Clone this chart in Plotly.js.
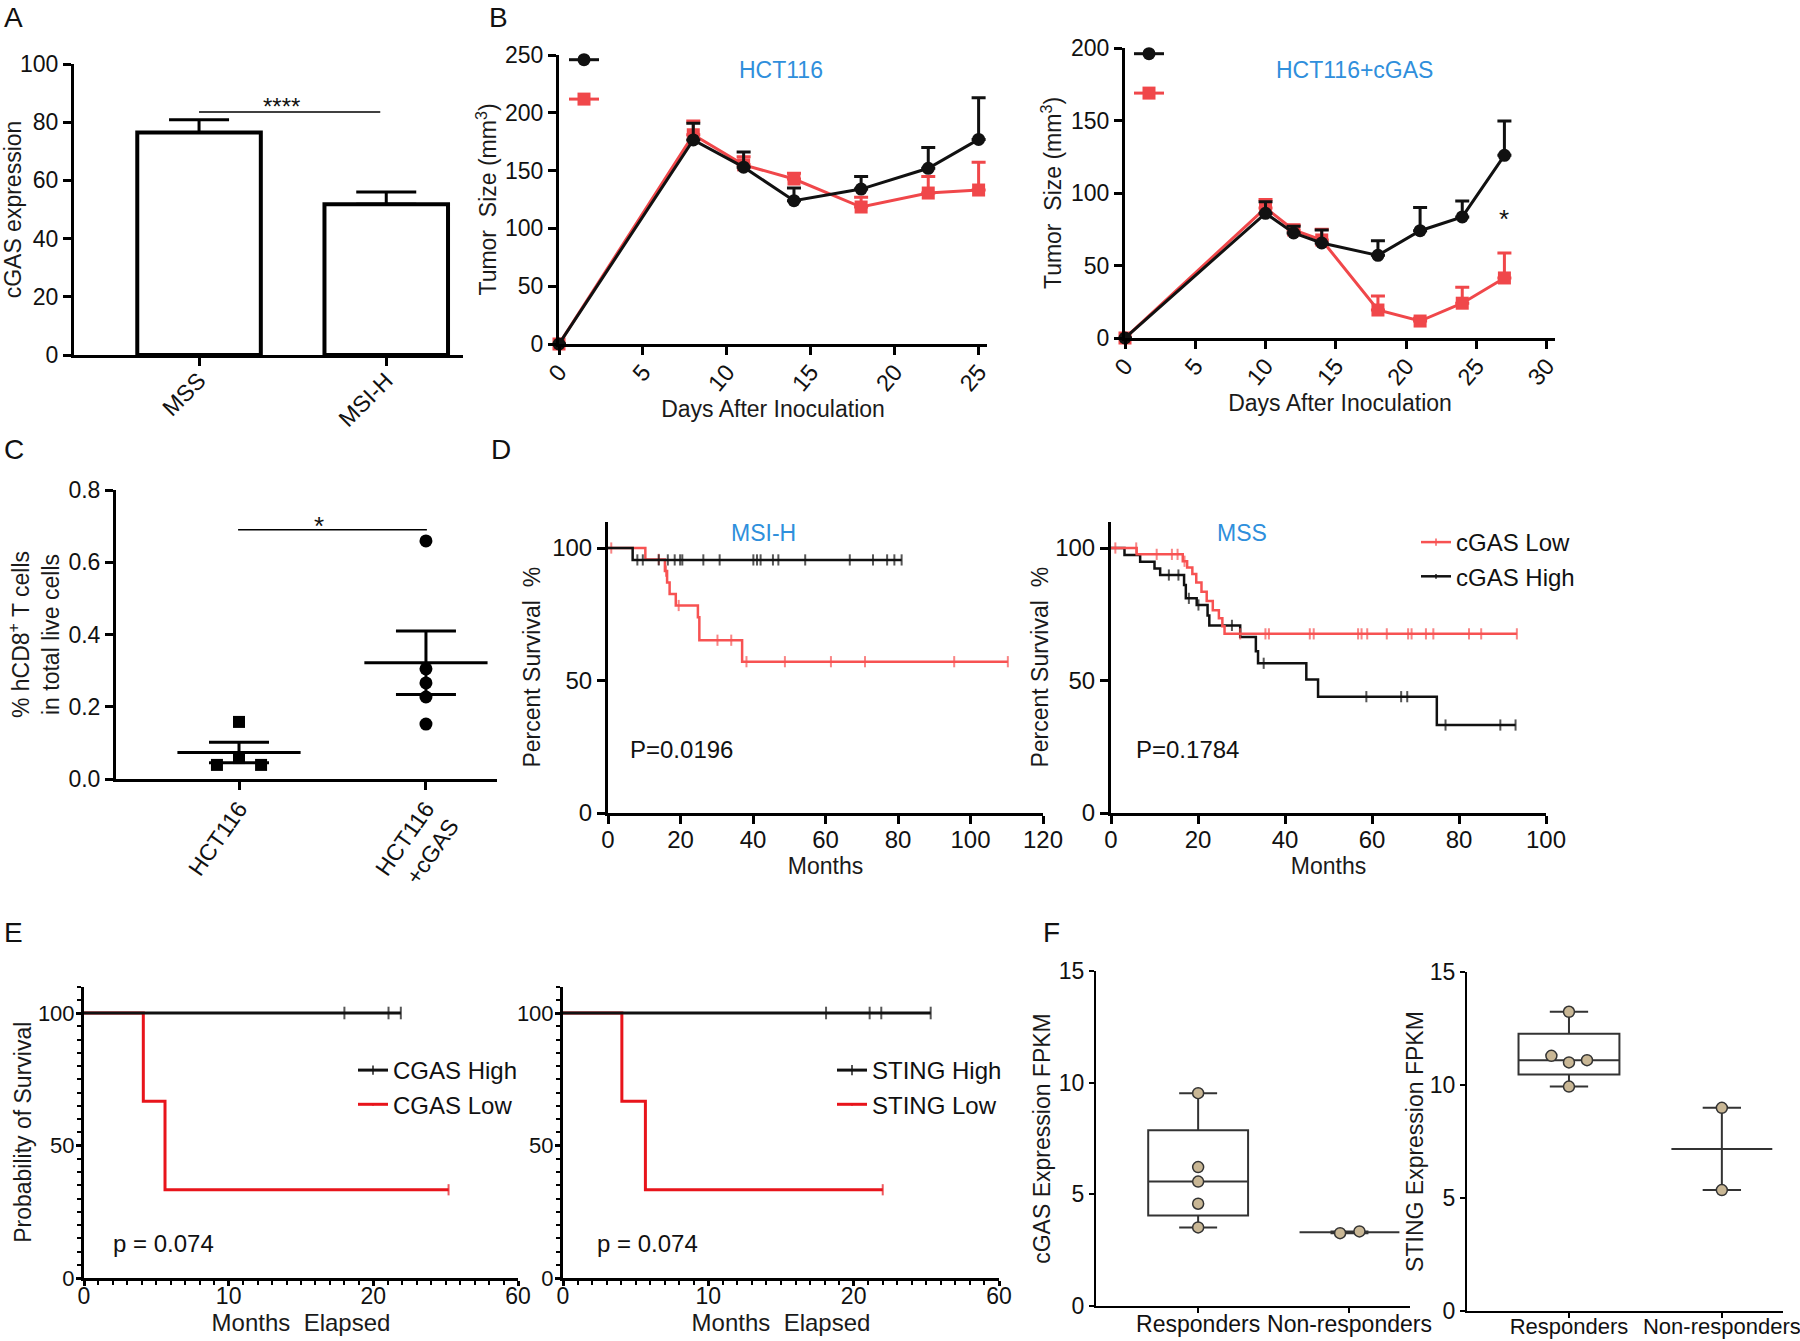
<!DOCTYPE html>
<html><head><meta charset="utf-8">
<script src="https://cdn.plot.ly/plotly-3.0.1.min.js"></script>
<style>body{margin:0;background:#fff}#chart{width:1800px;height:1341px}</style>
</head><body><div id="chart"></div>
<script>
// ===================== DATA =====================
// Panel A
const aCategories = ['MSS', 'MSI-H'];
const aValues = [76.5, 51.8];
const aErrors = [4.3, 4.2];

// Panel B (tumor growth, mean + upper SEM)
const bDaysHCT = [0, 8, 11, 14, 18, 22, 25];
const bHCTBlack = [0, 176.5, 153, 124, 134, 152, 177];
const bHCTBlackErr = [0, 14.5, 13, 11, 11, 18, 36];
const bHCTRed = [0, 181, 155, 142.7, 118.5, 130.6, 133.2];
const bHCTRedErr = [0, 12, 7, 5, 8.5, 14.4, 24];
const bDaysCGAS = [0, 10, 12, 14, 18, 21, 24, 27];
const bCGASBlack = [0, 86, 72.4, 65.5, 57, 74, 83.5, 126];
const bCGASBlackErr = [0, 8, 4.6, 9, 10, 16, 11, 23.7];
const bCGASRed = [0, 89.7, 74.5, 67.6, 19.3, 11.7, 24, 41.4];
const bCGASRedErr = [0, 5.9, 3.5, 7.4, 9.7, 2, 11, 17.2];

// Panel C
const cCategories = ['HCT116', 'HCT116<br>+cGAS'];
const cHCT116 = [0.158, 0.058, 0.039, 0.039];
const cHCT116Jitter = [0, 0, -0.118, 0.118];
const cHCT116cGAS = [0.659, 0.305, 0.266, 0.227, 0.152];
const cHCT116cGASJitter = [0, 0, 0, 0, 0];

// Panel D (Kaplan-Meier, percent survival)
const dMSIHighEventT = [6.8];
const dMSIHighEventS = [95.5];
const dMSIHighCensor = [8.1, 9.6, 14.0, 16.5, 18.4, 19.9, 20.5, 26.3, 30.8, 40.1, 41.1, 42.1, 45.5, 47.0, 54.4, 66.7, 73.1, 77.0, 79.0, 81.0];
const dMSILowEventT = [10.3, 15.7, 16.3, 17.0, 18.7, 24.8, 25.2, 37.0];
const dMSILowEventS = [95.7, 91.3, 87.0, 82.6, 78.3, 73.9, 65.2, 57.1];
const dMSILowCensor = [0.9, 14.0, 16.0, 19.5, 30.2, 34.0, 38.2, 48.8, 61.5, 70.9, 95.5, 110.3];
const dMSSHighEventT = [3.1, 6.7, 10.0, 11.3, 16.8, 17.2, 19.7, 22.2, 22.6, 29.7, 33.3, 33.8, 44.9, 47.6, 74.9];
const dMSSHighEventS = [97.4, 94.8, 92.3, 89.8, 86.0, 81.0, 78.5, 74.5, 70.8, 66.4, 61.0, 56.5, 50.4, 43.9, 33.2];
const dMSSHighCensor = [13.3, 15.5, 17.9, 20.1, 27.8, 35.1, 58.7, 66.7, 68.1, 76.9, 89.5, 93.0];
const dMSSLowEventT = [5.9, 16.5, 17.5, 18.7, 19.6, 20.8, 22.0, 23.4, 24.8, 25.6, 26.1];
const dMSSLowEventS = [97.6, 95.0, 92.6, 90.2, 87.0, 83.5, 80.0, 76.5, 73.5, 70.5, 67.6];
const dMSSLowCensor = [1.0, 5.8, 10.5, 14.0, 15.3, 16.9, 29.7, 35.5, 36.3, 45.7, 46.6, 56.8, 57.6, 58.9, 63.4, 68.3, 69.1, 72.4, 74.1, 82.3, 85.1, 93.3];

// Panel E (Kaplan-Meier, probability of survival)
const eTickVals = [0, 10, 20, 30];
const eTickText = ['0', '10', '20', '60'];
const eCGASHighEventT = [], eCGASHighEventS = [];
const eCGASHighCensor = [18.0, 21.05, 21.9];
const eCGASLowEventT = [4.1, 5.6];
const eCGASLowEventS = [66.7, 33.3];
const eCGASLowCensor = [25.2];
const eSTINGHighEventT = [], eSTINGHighEventS = [];
const eSTINGHighCensor = [18.1, 21.1, 21.9, 25.3];
const eSTINGLowEventT = [4.05, 5.67];
const eSTINGLowEventS = [66.7, 33.3];
const eSTINGLowCensor = [22.0];

// Panel F
const fCategories = ['Responders', 'Non-responders'];
const fCGASResponders = [9.53, 6.22, 5.57, 4.58, 3.52];
const fCGASRespJitter = [0, 0, 0, 0, 0];
const fCGASNonResponders = [3.26, 3.34];
const fCGASNonJitter = [-0.062, 0.066];
const fSTINGResponders = [13.24, 11.29, 11.0, 11.1, 9.93];
const fSTINGRespJitter = [0, -0.115, 0, 0.118, 0];
const fSTINGNonResponders = [8.99, 5.35];
const fSTINGNonJitter = [0, 0];

// ===================== HELPERS =====================
const FONT = 'Arial, "Liberation Sans", sans-serif';
const W = 1800, H = 1341;
const xd = (a, b) => [a / W, b / W];
const yd = (top, bottom) => [1 - bottom / H, 1 - top / H];
const BLUE = '#2f8fdc';
const RED_B = '#f0474a', RED_D = '#f75252', RED_E = '#e8141b';
const BLK = '#111111';

function axis(domain, anchor, extra) {
  return Object.assign({
    domain, anchor, showline: true, linecolor: '#000', linewidth: 3,
    ticks: 'outside', ticklen: 8, tickwidth: 2.5, tickcolor: '#000',
    showgrid: false, zeroline: false, fixedrange: true,
    tickfont: {family: FONT, size: 23, color: '#111'}
  }, extra);
}
const tf = size => ({family: FONT, size, color: '#111'});
function ttl(text, standoff, size) {
  return {text, standoff, font: {family: FONT, size: size || 23, color: '#1a1a1a'}};
}
function km(evT, evS, cens, tick) {
  const pts = [{t: 0, s: 100, c: 0}];
  evT.forEach((t, i) => pts.push({t, s: evS[i], c: 0}));
  cens.forEach(t => pts.push({t, s: null, c: 1}));
  pts.sort((a, b) => (a.t - b.t) || (a.c - b.c));
  let cur = 100;
  pts.forEach(p => { if (p.c) p.s = cur; else cur = p.s; });
  return {x: pts.map(p => p.t), y: pts.map(p => p.s), size: pts.map(p => p.c ? tick : 0)};
}
function kmTrace(evT, evS, cens, color, width, tick, xa, ya, name, legend, rank) {
  const k = km(evT, evS, cens, tick);
  return {
    type: 'scatter', mode: 'lines+markers', x: k.x, y: k.y, xaxis: xa, yaxis: ya,
    line: {shape: 'hv', color, width},
    marker: {symbol: 'line-ns', size: k.size, color, line: {color, width: 2}},
    name: name || '', showlegend: !!legend, legend: legend || 'legend', legendrank: rank || 1000,
    legendgroup: name || undefined, hoverinfo: 'skip', cliponaxis: false
  };
}
const mean = a => a.reduce((s, v) => s + v, 0) / a.length;
const sem = a => { const m = mean(a); return Math.sqrt(a.reduce((s, v) => s + (v - m) ** 2, 0) / (a.length - 1)) / Math.sqrt(a.length); };
function boxStats(vals) {
  const s = [...vals].sort((a, b) => a - b), n = s.length;
  const md = a => a.length % 2 ? a[(a.length - 1) / 2] : (a[a.length / 2 - 1] + a[a.length / 2]) / 2;
  const med = md(s);
  if (n < 4) return {q1: med, med, q3: med, lo: s[0], hi: s[n - 1]};
  return {q1: md(s.slice(0, Math.floor(n / 2))), med, q3: md(s.slice(Math.ceil(n / 2))), lo: s[0], hi: s[n - 1]};
}
function boxTrace(groups, xa, ya) {
  const st = groups.map(boxStats);
  return {
    type: 'box', x: groups.map((g, i) => i), xaxis: xa, yaxis: ya,
    q1: st.map(s => s.q1), median: st.map(s => s.med), q3: st.map(s => s.q3),
    lowerfence: st.map(s => s.lo), upperfence: st.map(s => s.hi),
    width: 0.66, whiskerwidth: 0.38, boxpoints: false,
    line: {color: '#333', width: 2}, fillcolor: 'rgba(0,0,0,0)', showlegend: false, hoverinfo: 'skip'
  };
}
function pointTrace(vals, jit, idx, xa, ya) {
  return {
    type: 'scatter', mode: 'markers', x: vals.map((v, i) => idx + jit[i]), y: vals,
    xaxis: xa, yaxis: ya, showlegend: false, hoverinfo: 'skip', cliponaxis: false,
    marker: {color: '#c9b795', size: 11, line: {color: '#333', width: 1.5}}
  };
}
function growth(x, y, err, color, symbol, xa, ya, legend, rank) {
  return {
    type: 'scatter', mode: 'lines+markers', x, y, xaxis: xa, yaxis: ya,
    line: {color, width: 3}, marker: {color, symbol, size: 13},
    error_y: {type: 'data', array: err, arrayminus: err.map(() => 0), symmetric: false, color, thickness: 3, width: 7},
    name: ' ', legend, legendrank: rank, showlegend: true, hoverinfo: 'skip', cliponaxis: false
  };
}

// ===================== TRACES =====================
const traces = [];
// A
traces.push({
  type: 'bar', x: aCategories, y: aValues, xaxis: 'x', yaxis: 'y', width: 0.66,
  marker: {color: '#fff', line: {color: '#000', width: 4}},
  error_y: {type: 'data', array: aErrors, arrayminus: [0, 0], symmetric: false, color: '#000', thickness: 3, width: 30},
  showlegend: false, hoverinfo: 'skip'
});
// B
traces.push(growth(bDaysHCT, bHCTRed, bHCTRedErr, RED_B, 'square', 'x2', 'y2', 'legend', 2));
traces.push(growth(bDaysHCT, bHCTBlack, bHCTBlackErr, BLK, 'circle', 'x2', 'y2', 'legend', 1));
traces.push(growth(bDaysCGAS, bCGASRed, bCGASRedErr, RED_B, 'square', 'x3', 'y3', 'legend2', 2));
traces.push(growth(bDaysCGAS, bCGASBlack, bCGASBlackErr, BLK, 'circle', 'x3', 'y3', 'legend2', 1));
// C
traces.push({type: 'scatter', mode: 'markers', x: cHCT116.map((v, i) => 0 + cHCT116Jitter[i]), y: cHCT116,
  xaxis: 'x4', yaxis: 'y4', marker: {symbol: 'square', color: '#000', size: 12}, showlegend: false, hoverinfo: 'skip', cliponaxis: false});
traces.push({type: 'scatter', mode: 'markers', x: cHCT116cGAS.map((v, i) => 1 + cHCT116cGASJitter[i]), y: cHCT116cGAS,
  xaxis: 'x4', yaxis: 'y4', marker: {symbol: 'circle', color: '#000', size: 13}, showlegend: false, hoverinfo: 'skip', cliponaxis: false});
traces.push({type: 'scatter', mode: 'markers', x: [0, 1], y: [mean(cHCT116), mean(cHCT116cGAS)], xaxis: 'x4', yaxis: 'y4',
  marker: {symbol: 'line-ew', size: 88, color: '#000', line: {color: '#000', width: 3}},
  error_y: {type: 'data', array: [sem(cHCT116), sem(cHCT116cGAS)], color: '#000', thickness: 3, width: 30},
  showlegend: false, hoverinfo: 'skip', cliponaxis: false});
// D
traces.push(kmTrace(dMSILowEventT, dMSILowEventS, dMSILowCensor, RED_D, 2.5, 8, 'x5', 'y5'));
traces.push(kmTrace(dMSIHighEventT, dMSIHighEventS, dMSIHighCensor, BLK, 2.5, 8, 'x5', 'y5'));
traces.push(kmTrace(dMSSHighEventT, dMSSHighEventS, dMSSHighCensor, BLK, 2.5, 8, 'x6', 'y6', 'cGAS High', 'legend3', 2));
traces.push(kmTrace(dMSSLowEventT, dMSSLowEventS, dMSSLowCensor, RED_D, 2.5, 8, 'x6', 'y6', 'cGAS Low', 'legend3', 1));
// E
traces.push(kmTrace(eCGASLowEventT, eCGASLowEventS, eCGASLowCensor, RED_E, 3, 8, 'x7', 'y7', 'CGAS Low', 'legend4', 2));
traces.push(kmTrace(eCGASHighEventT, eCGASHighEventS, eCGASHighCensor, BLK, 3, 9, 'x7', 'y7', 'CGAS High', 'legend4', 1));
traces.push(kmTrace(eSTINGLowEventT, eSTINGLowEventS, eSTINGLowCensor, RED_E, 3, 8, 'x8', 'y8', 'STING Low', 'legend5', 2));
traces.push(kmTrace(eSTINGHighEventT, eSTINGHighEventS, eSTINGHighCensor, BLK, 3, 9, 'x8', 'y8', 'STING High', 'legend5', 1));
// F
traces.push(boxTrace([fCGASResponders, fCGASNonResponders], 'x9', 'y9'));
traces.push(pointTrace(fCGASResponders, fCGASRespJitter, 0, 'x9', 'y9'));
traces.push(pointTrace(fCGASNonResponders, fCGASNonJitter, 1, 'x9', 'y9'));
traces.push(boxTrace([fSTINGResponders, fSTINGNonResponders], 'x10', 'y10'));
traces.push(pointTrace(fSTINGResponders, fSTINGRespJitter, 0, 'x10', 'y10'));
traces.push(pointTrace(fSTINGNonResponders, fSTINGNonJitter, 1, 'x10', 'y10'));

// ===================== LAYOUT =====================
const minorX = {tickmode: 'linear', tick0: 0, dtick: 1, ticklen: 4, tickwidth: 2, ticks: 'outside', tickcolor: '#000'};
const minorY = {tickmode: 'linear', tick0: 0, dtick: 5, ticklen: 4, tickwidth: 2, ticks: 'outside', tickcolor: '#000'};
const fAx = {linewidth: 2, ticklen: 5, tickwidth: 1.5, tickfont: tf(23), ticklabeloverflow: 'allow'};
const eX = {ticklen: 5, tickfont: tf(23), ticklabeloverflow: 'allow', ticklabelstandoff: -10};
const eY = {ticklen: 5, tickfont: tf(22), ticklabeloverflow: 'allow', ticklabelstandoff: -3};

function legendAt(px, py, size, gap) {
  return {x: px / W, y: 1 - py / H, xanchor: 'left', yanchor: 'top', bgcolor: 'rgba(0,0,0,0)',
    font: {family: FONT, size, color: '#111'}, itemwidth: 30, traceorder: 'normal', tracegroupgap: gap || 0};
}
function ann(text, x, y, xref, yref, size, color, extra) {
  return Object.assign({text, x, y, xref, yref, showarrow: false,
    font: {family: FONT, size, color: color || '#111'}}, extra || {});
}
function letter(t, px, py) {
  return ann(t, px / W, 1 - py / H, 'paper', 'paper', 28, '#111', {xanchor: 'left', yanchor: 'middle'});
}

const layout = {
  width: W, height: H, margin: {l: 0, r: 0, t: 0, b: 0},
  paper_bgcolor: '#fff', plot_bgcolor: 'rgba(0,0,0,0)',
  font: {family: FONT, color: '#111'},
  xaxis: axis(xd(74, 463), 'y', {type: 'category', range: [-0.668, 1.41], tickangle: -45, ticklabelstandoff: -8}),
  yaxis: axis(yd(64, 355), 'x', {range: [0, 100], dtick: 20, title: ttl('cGAS expression', 2)}),
  xaxis2: axis(xd(559, 987), 'y2', {range: [0, 25.5], dtick: 5, tickangle: -50, tickfont: tf(23.5), ticklabelstandoff: -6, title: ttl('Days After Inoculation', 0)}),
  yaxis2: axis(yd(55, 344), 'x2', {range: [0, 250], dtick: 50, title: ttl('Tumor\u00a0 Size (mm<sup>3</sup>)', 2)}),
  xaxis3: axis(xd(1125, 1555), 'y3', {range: [0, 30.6], dtick: 5, tickangle: -50, tickfont: tf(23.5), ticklabelstandoff: -6, title: ttl('Days After Inoculation', 0)}),
  yaxis3: axis(yd(48, 338), 'x3', {range: [0, 200], dtick: 50, title: ttl('Tumor\u00a0 Size (mm<sup>3</sup>)', 3)}),
  xaxis4: axis(xd(116, 497), 'y4', {range: [-0.658, 1.38], tickvals: [0, 1], ticktext: cCategories, tickangle: -55, ticklabelstandoff: -4}),
  yaxis4: axis(yd(490, 779), 'x4', {range: [0, 0.8], dtick: 0.2, tickformat: '.1f', title: ttl('% hCD8<sup>+</sup> T cells<br>in total live cells', 3)}),
  xaxis5: axis(xd(608, 1043), 'y5', {range: [0, 120], dtick: 20, tickfont: tf(24), ticklabelstandoff: -5, title: ttl('Months', 0)}),
  yaxis5: axis(yd(521.5, 813), 'x5', {range: [0, 110], tickvals: [0, 50, 100], tickfont: tf(24), title: ttl('Percent Survival\u00a0 %', 6)}),
  xaxis6: axis(xd(1111, 1546), 'y6', {range: [0, 100], dtick: 20, tickfont: tf(24), ticklabelstandoff: -5, title: ttl('Months', 0)}),
  yaxis6: axis(yd(521.5, 813), 'x6', {range: [0, 110], tickvals: [0, 50, 100], tickfont: tf(24), title: ttl('Percent Survival\u00a0 %', 1)}),
  xaxis7: axis(xd(84, 518), 'y7', Object.assign({range: [0, 30], tickvals: eTickVals, ticktext: eTickText, minor: minorX, title: ttl('Months\u00a0 Elapsed', 2, 24)}, eX)),
  yaxis7: axis(yd(986.5, 1278), 'x7', Object.assign({range: [0, 110], tickvals: [0, 50, 100], minor: minorY, title: ttl('Probability of Survival', 0, 23)}, eY)),
  xaxis8: axis(xd(563, 999), 'y8', Object.assign({range: [0, 30], tickvals: eTickVals, ticktext: eTickText, minor: minorX, title: ttl('Months\u00a0 Elapsed', 2, 24)}, eX)),
  yaxis8: axis(yd(986.5, 1278), 'x8', Object.assign({range: [0, 110], tickvals: [0, 50, 100], minor: minorY}, eY)),
  xaxis9: axis(xd(1096, 1410), 'y9', Object.assign({range: [-0.675, 1.40], tickvals: [0, 1], ticktext: fCategories}, fAx, {tickfont: tf(23), ticklabelstandoff: -9})),
  yaxis9: axis(yd(971, 1306), 'x9', Object.assign({range: [0, 15], dtick: 5, title: ttl('cGAS Expression FPKM', 2, 23)}, fAx)),
  xaxis10: axis(xd(1467, 1783), 'y10', Object.assign({range: [-0.667, 1.40], tickvals: [0, 1], ticktext: fCategories}, fAx, {tickfont: tf(22), ticklabelstandoff: -10})),
  yaxis10: axis(yd(972, 1311), 'x10', Object.assign({range: [0, 15], dtick: 5, title: ttl('STING Expression FPKM', 0, 23)}, fAx)),
  legend: legendAt(564, 35, 28),
  legend2: legendAt(1129, 29, 28),
  legend3: legendAt(1416, 520, 24, 10),
  legend4: legendAt(353, 1048, 24, 13),
  legend5: legendAt(832, 1048, 24, 13),
  shapes: [
    {type: 'line', xref: 'x', yref: 'y', x0: 0, x1: 0.968, y0: 83.5, y1: 83.5, line: {color: '#000', width: 1.5}},
    {type: 'line', xref: 'x4', yref: 'y4', x0: -0.005, x1: 1.005, y0: 0.69, y1: 0.69, line: {color: '#000', width: 1.5}}
  ],
  annotations: [
    letter('A', 2, 17), letter('B', 487, 17), letter('C', 2, 449), letter('D', 489, 449), letter('E', 2, 932), letter('F', 1041, 932),
    ann('****', 0.44, 85.5, 'x', 'y', 24),
    ann('HCT116', 13.2, 237, 'x2', 'y2', 23, BLUE),
    ann('ns', 25.9, 160, 'x2', 'y2', 23, '#111', {textangle: 90}),
    ann('HCT116+cGAS', 16.3, 185, 'x3', 'y3', 23, BLUE),
    ann('*', 27, 82, 'x3', 'y3', 26),
    ann('*', 0.43, 0.70, 'x4', 'y4', 26),
    ann('MSI-H', 43, 105.7, 'x5', 'y5', 23, BLUE),
    ann('P=0.0196', 5.6, 23.8, 'x5', 'y5', 24, '#111', {xanchor: 'left'}),
    ann('MSS', 30, 105.7, 'x6', 'y6', 23, BLUE),
    ann('P=0.1784', 5.2, 23.8, 'x6', 'y6', 24, '#111', {xanchor: 'left'}),
    ann('p = 0.074', 1.9, 13.2, 'x7', 'y7', 24, '#111', {xanchor: 'left'}),
    ann('p = 0.074', 2.2, 13.2, 'x8', 'y8', 24, '#111', {xanchor: 'left'})
  ]
};

Plotly.newPlot('chart', traces, layout, {displayModeBar: false, responsive: false});
</script>
</body></html>
